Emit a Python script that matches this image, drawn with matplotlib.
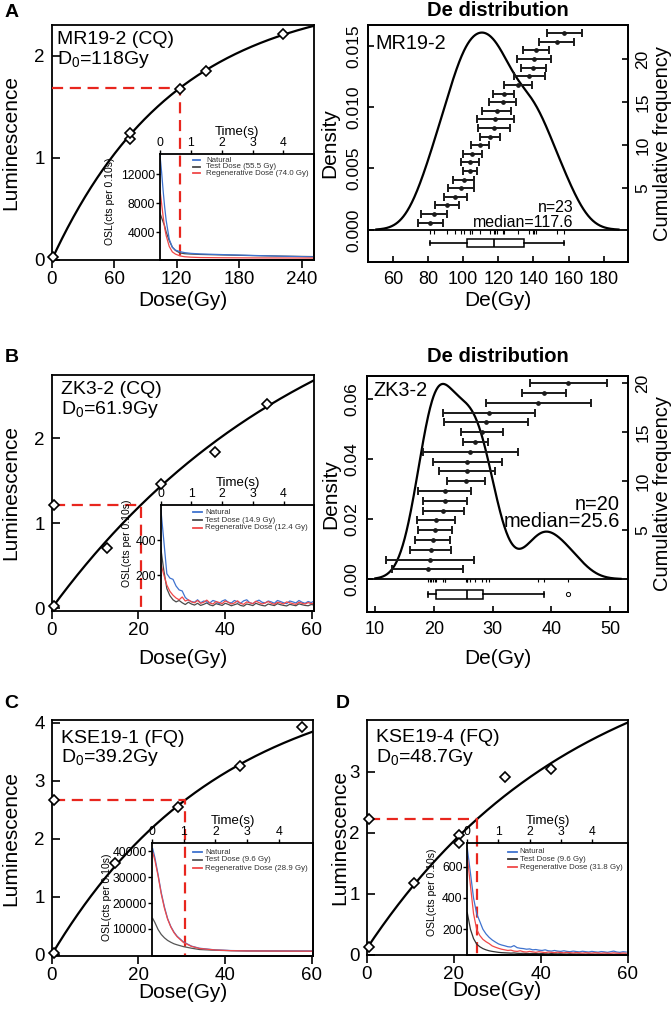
import numpy as np
import matplotlib
matplotlib.use('Agg')
import matplotlib.pyplot as plt

plt.rcParams['font.family'] = ['Liberation Sans', 'DejaVu Sans']
plt.rcParams['mathtext.default'] = 'regular'

W, H = 671, 1013
fig = plt.figure(figsize=(W / 100, H / 100), dpi=100)


def rect(x0, y0, x1, y1):
    return [x0 / W, 1 - y1 / H, (x1 - x0) / W, (y1 - y0) / H]


def ftxt(x, y, s, **kw):
    fig.text(x / W, 1 - y / H, s, **kw)

# ---------------- data ----------------
sample_names = ['MR19-2 (CQ)', 'ZK3-2 (CQ)', 'KSE19-1 (FQ)', 'KSE19-4 (FQ)']
d0_text = ['118Gy', '61.9Gy', '39.2Gy', '48.7Gy']
fit_a = [2.60, 4.30, 4.90, 5.23]
fit_D0 = [118.0, 61.9, 39.2, 48.7]
fit_c = [0.0, 0.0, 0.0, 0.10]

A_dose = [1.5, 75, 75, 123, 148, 222]
A_lum = [0.03, 1.18, 1.24, 1.67, 1.85, 2.21]
B_dose = [0.5, 12.8, 25.2, 37.6, 49.6]
B_lum = [0.03, 0.71, 1.46, 1.84, 2.40]
C_dose = [0.5, 14.6, 29.2, 43.5, 57.7]
C_lum = [0.03, 1.59, 2.54, 3.26, 3.92]
D_dose = [0.5, 10.9, 21.2, 21.2, 31.9, 42.3]
D_lum = [0.12, 1.18, 1.97, 1.83, 2.91, 3.04]

natural_dose = [None, 0.5, 0.5, 0.5]
natural_lum = [1.68, 1.22, 2.67, 2.22]
equiv_dose = [123.0, 20.6, 30.7, 25.3]

# OSL decay curves (insets)
A_t = [0, 0.05, 0.1, 0.15, 0.2, 0.3, 0.4, 0.5, 0.65, 0.8, 1.0, 1.3, 2.0, 3.0, 4.0, 5.0]
A_nat = [14600, 12400, 9800, 7500, 5600, 3000, 1900, 1500, 1280, 1150, 1050, 970, 880, 760, 650, 560]
A_test = [6600, 6000, 5400, 4850, 4000, 2800, 1900, 1450, 1100, 1000, 950, 900, 830, 740, 660, 600]
A_reg = [9800, 8000, 6200, 4600, 3500, 2000, 1250, 950, 690, 580, 520, 470, 440, 420, 410, 400]

B_t = np.arange(51) * 0.1
B_nat = [585, 400, 210, 185, 178, 140, 118, 112, 75, 60,
         52, 48, 62, 45, 55, 50, 44, 58, 52, 40,
         55, 62, 48, 44, 58, 50, 42, 56, 62, 45,
         40, 52, 60, 48, 44, 55, 50, 42, 58, 52,
         45, 40, 55, 50, 44, 58, 48, 42, 52, 46,
         56]
B_test = [360, 230, 125, 85, 62, 50, 58, 45, 35, 48,
          38, 32, 42, 30, 36, 44, 33, 28, 40, 35,
          30, 42, 36, 28, 34, 40, 30, 26, 38, 34,
          29, 42, 35, 30, 27, 38, 33, 29, 40, 34,
          30, 27, 36, 32, 28, 39, 34, 30, 28, 35,
          32]
B_reg = [270, 205, 145, 110, 88, 72, 62, 78, 55, 62,
         50, 45, 58, 42, 48, 60, 44, 38, 52, 47,
         40, 55, 48, 38, 44, 56, 42, 36, 50, 45,
         40, 54, 46, 38, 44, 52, 42, 36, 48, 44,
         38, 50, 45, 40, 36, 48, 42, 38, 46, 40,
         44]

C_t = [0.03, 0.1, 0.2, 0.3, 0.4, 0.5, 0.6, 0.7, 0.8, 1.0, 1.25, 1.5, 2.0, 2.5, 3.0, 4.0, 5.1]
C_nat = [41000, 37500, 31000, 24000, 18500, 14000, 11000, 8800, 7200, 5000, 3400, 2600, 1950, 1700, 1600, 1550, 1500]
C_test = [14100, 12500, 9800, 7900, 6600, 5600, 4900, 4300, 3900, 3200, 2600, 2100, 1800, 1650, 1550, 1500, 1450]
C_reg = [39500, 36500, 30500, 23500, 18000, 13800, 10800, 8600, 7000, 4800, 3300, 2500, 1900, 1650, 1550, 1500, 1450]

D_t = np.arange(52) * 0.1
D_nat = [717, 560, 400, 300, 250, 200, 170, 148, 131, 118,
         106, 99, 94, 88, 86, 95, 82, 78, 76, 72,
         74, 68, 70, 66, 64, 68, 62, 60, 64, 60,
         58, 62, 58, 56, 60, 57, 55, 59, 56, 54,
         58, 55, 53, 57, 55, 52, 56, 60, 54, 52,
         56, 54]
D_reg = [663, 480, 300, 200, 160, 135, 120, 108, 93, 85,
         78, 72, 68, 64, 66, 60, 58, 62, 56, 54,
         58, 55, 52, 56, 53, 50, 54, 52, 50, 53,
         51, 49, 52, 50, 48, 51, 49, 47, 50, 48,
         47, 50, 48, 46, 49, 47, 46, 49, 47, 45,
         48, 46]
D_test = [305, 200, 140, 105, 88, 76, 68, 62, 58, 55,
          52, 50, 49, 48, 47, 48, 46, 45, 46, 45,
          44, 45, 44, 43, 44, 43, 42, 44, 43, 42,
          43, 42, 41, 43, 42, 41, 42, 41, 40, 42,
          41, 40, 41, 40, 40, 41, 40, 39, 40, 39,
          40, 39]

legend_labels = [
    ['Natural', 'Test Dose (55.5 Gy)', 'Regenerative Dose (74.0 Gy)'],
    ['Natural', 'Test Dose (14.9 Gy)', 'Regenerative Dose (12.4 Gy)'],
    ['Natural', 'Test Dose (9.6 Gy)', 'Regenerative Dose (28.9 Gy)'],
    ['Natural', 'Test Dose (9.6 Gy)', 'Regenerative Dose (31.8 Gy)'],
]

# De distributions (sorted), with 1-sigma errors
MR_name = 'MR19-2'
MR_de = [81.4, 83.3, 90.9, 95.5, 98.9, 100.2, 103.8, 103.8, 105.3, 109.7, 115.2, 117.6,
         118.2, 119.0, 122.4, 123.1, 131.1, 137.7, 140.0, 140.2, 141.5, 153.3, 157.6]
MR_err = [7.3, 7.3, 6.7, 6.4, 7.4, 6.2, 3.9, 5.2, 5.2, 5.2, 5.9, 9.1,
          10.6, 8.5, 7.9, 6.1, 7.8, 9.0, 6.9, 9.7, 7.3, 9.9, 9.9]
ZK_name = 'ZK3-2'
ZK_de = [18.96, 19.4, 19.5, 19.8, 20.2, 20.4, 21.6, 21.9, 21.9, 25.5,
         25.7, 25.7, 26.2, 27.1, 28.2, 28.9, 29.4, 37.8, 38.8, 42.9]
ZK_err = [6.0, 7.5, 3.5, 3.0, 2.9, 3.3, 3.5, 3.8, 4.5, 3.3,
          4.8, 5.9, 8.1, 2.2, 3.6, 7.2, 7.9, 8.9, 3.7, 6.5]

BLUE = '#3f73cf'
RED = '#f04848'
DGRAY = '#4a4a4a'
DASH = '#e8261e'


def kde(vals):
    v = np.asarray(vals, float)
    n = len(v)
    sd = v.std(ddof=1)
    q75, q25 = np.percentile(v, [75, 25])
    bw = 0.9 * min(sd, (q75 - q25) / 1.34) * n ** -0.2
    g = np.linspace(v.min() - 3 * bw, v.max() + 3 * bw, 512)
    d = np.exp(-0.5 * ((g[:, None] - v[None, :]) / bw) ** 2).sum(1) / (n * bw * np.sqrt(2 * np.pi))
    return g, d


def growth_panel(k, px, xlim, ylim, xticks, yticks, dose, lum, ty, lum_x, dose_y):
    ax = fig.add_axes(rect(*px))
    D = np.linspace(0, xlim[1], 400)
    ax.plot(D, fit_a[k] * (1 - np.exp(-D / fit_D0[k])) + fit_c[k], color='black', lw=1.6, zorder=2)
    x0 = natural_dose[k] if natural_dose[k] is not None else 0
    ax.plot([x0, equiv_dose[k], equiv_dose[k]], [natural_lum[k], natural_lum[k], ylim[0]],
            color=DASH, lw=1.6, dashes=(5, 3), zorder=3)
    mk = dict(linestyle='none', marker='D', ms=5.6, mfc='white', mec='black', mew=1.2, zorder=4, clip_on=False)
    ax.plot(dose, lum, **mk)
    if natural_dose[k] is not None:
        ax.plot([natural_dose[k]], [natural_lum[k]], **mk)
    ax.set_xlim(xlim)
    ax.set_ylim(ylim)
    ax.set_xticks(xticks)
    ax.set_yticks(yticks)
    ax.tick_params(axis='x', direction='out', length=6, width=1.2, labelsize=13.5, pad=2)
    ax.tick_params(axis='y', direction='in', length=5.5, width=1.2, labelsize=13.5, pad=5)
    for s in ax.spines.values():
        s.set_linewidth(1.3)
    ftxt(px[0] + (9 if k else 5), ty, sample_names[k], fontsize=14, va='center')
    ftxt(px[0] + (9 if k else 5), ty + 20, 'D$_0$=' + d0_text[k], fontsize=14, va='center')
    ftxt(lum_x, (px[1] + px[3]) / 2, 'Luminescence', rotation=90, fontsize=15, ha='center', va='center')
    ftxt((px[0] + px[2]) / 2, dose_y, 'Dose(Gy)', fontsize=15, ha='center', va='center')
    return ax


def inset_panel(k, px, t, nat, test, reg, colors, xlim, ylim, yticks, ylab_xy, leg_x, leg_tx, leg_rows):
    ax = fig.add_axes(rect(*px))
    ax.patch.set_alpha(0)
    ax.plot(t, test, color=colors[1], lw=0.9)
    ax.plot(t, nat, color=colors[0], lw=0.9)
    ax.plot(t, reg, color=colors[2], lw=0.9)
    ax.set_xlim(xlim)
    ax.set_ylim(ylim)
    ax.xaxis.tick_top()
    ax.xaxis.set_label_position('top')
    ax.set_xticks([0, 1, 2, 3, 4])
    ax.set_yticks(yticks)
    ax.tick_params(axis='both', direction='out', length=3, width=1, labelsize=8.8, pad=0.5)
    ax.set_xlabel('Time(s)', fontsize=9.5, labelpad=1.5)
    for s in ax.spines.values():
        s.set_linewidth(1.3)
    ax.text(ylab_xy[0], ylab_xy[1], 'OSL(cts per 0.10s)', rotation=90, transform=ax.transAxes,
            ha='center', va='center', fontsize=7.5)
    for lab, c, ry in zip(legend_labels[k], colors, leg_rows):
        ax.plot(leg_x, [ry, ry], transform=ax.transAxes, color=c, lw=1.3)
        ax.text(leg_tx, ry, lab, transform=ax.transAxes, fontsize=5.7, va='center', color='#333333')
    return ax


def dist_panel(px, name, de, err, xlim, dlim, dticks, dfmt, clim, cticks, xticks,
               name_xy, n_xy, med_xy, stat_fs, box_y, box_h, rug, title_y, dens_x, cum_x, de_y):
    ax = fig.add_axes(rect(*px))
    g, d = kde(de)
    ax.plot(g, d, color='black', lw=1.6, zorder=2)
    ax.axhline(0, color='black', lw=1.3)
    ax.vlines(de, -rug, 0, color='black', lw=0.8)
    ax.boxplot(de, orientation='horizontal', positions=[box_y], widths=box_h, whis=1.5,
               patch_artist=True, manage_ticks=False,
               boxprops=dict(facecolor='white', edgecolor='black', lw=1.1),
               medianprops=dict(color='black', lw=1.2),
               whiskerprops=dict(color='black', lw=1.2),
               capprops=dict(color='black', lw=1.2),
               flierprops=dict(marker='o', ms=3, mfc='none', mec='black', mew=0.7))
    ax.set_xlim(xlim)
    ax.set_ylim(dlim)
    ax.set_xticks(xticks)
    ax.set_yticks(dticks)
    ax.set_yticklabels([dfmt % v for v in dticks], rotation=90, va='center')
    ax.tick_params(axis='both', direction='in', length=4.5, width=1.2, labelsize=12.5)
    ax.tick_params(axis='x', pad=7, labelsize=13)
    ax.tick_params(axis='y', pad=5)
    for s in ax.spines.values():
        s.set_linewidth(1.3)
    ax2 = ax.twinx()
    ax2.errorbar(de, np.arange(1, len(de) + 1), xerr=err, fmt='o', ms=2.4, color='#1a1a1a',
                 ecolor='#1a1a1a', elinewidth=1.4, capsize=2.6, capthick=1.4)
    ax2.set_ylim(clim)
    ax2.set_yticks(cticks)
    ax2.set_yticklabels([str(v) for v in cticks], rotation=90, va='center')
    ax2.tick_params(axis='y', direction='in', length=4.5, width=1.2, labelsize=12.5, pad=5)
    for s in ax2.spines.values():
        s.set_linewidth(1.3)
    ax.text(name_xy[0], name_xy[1], name, transform=ax.transAxes, fontsize=14.3, va='center')
    ax.text(n_xy[0], n_xy[1], 'n=%d' % len(de), transform=ax.transAxes, fontsize=stat_fs,
            ha='right', va='center')
    ax.text(med_xy[0], med_xy[1], 'median=%.1f' % np.median(de), transform=ax.transAxes,
            fontsize=stat_fs, ha='right', va='center')
    ftxt((px[0] + px[2]) / 2, title_y, 'De distribution', fontsize=14.5, fontweight='bold',
         ha='center', va='center')
    ftxt(dens_x, (px[1] + px[3]) / 2, 'Density', rotation=90, fontsize=15, ha='center', va='center')
    ftxt(cum_x, (px[1] + px[3]) / 2, 'Cumulative frequency', rotation=90, fontsize=14.5,
         ha='center', va='center')
    ftxt((px[0] + px[2]) / 2, de_y, 'De(Gy)', fontsize=15, ha='center', va='center')
    return ax


# ---------------- panel A ----------------
growth_panel(0, (51.7, 25, 314.3, 260), (0, 252), (0, 2.30), [0, 60, 120, 180, 240], [0, 1, 2],
             A_dose, A_lum, 40, 11, 300)
inset_panel(0, (160, 154, 314.3, 260), A_t, A_nat, A_test, A_reg, [BLUE, DGRAY, RED],
            (0, 5.0), (130, 14800), [4000, 8000, 12000], (-0.324, 0.55),
            [0.214, 0.259], 0.30, [0.943, 0.88, 0.817])
dist_panel((368.3, 25, 628.3, 261.7), MR_name, MR_de, MR_err, (46, 194), (-0.0026, 0.0167),
           [0.000, 0.005, 0.010, 0.015], '%.3f', (-3.53, 23.96), [5, 10, 15, 20],
           [60, 80, 100, 120, 140, 160, 180],
           (0.026, 0.923), (0.788, 0.227), (0.788, 0.166), 11.5, -0.00108, 0.00072, 0.00033,
           10, 330, 663, 300)

# ---------------- panel B ----------------
growth_panel(1, (51.7, 375, 314.3, 610.7), (0, 60.6), (-0.028, 2.745), [0, 20, 40, 60], [0, 1, 2],
             B_dose, B_lum, 390, 11, 658)
inset_panel(1, (160.7, 505, 314.3, 610.7), B_t, B_nat, B_test, B_reg, [BLUE, DGRAY, RED],
            (0, 5.0), (0, 600), [200, 400], (-0.22, 0.64),
            [0.213, 0.268], 0.289, [0.931, 0.858, 0.785])
dist_panel((366.7, 376, 628.3, 611.7), ZK_name, ZK_de, ZK_err, (8.6, 53.1), (-0.0109, 0.0678),
           [0.00, 0.02, 0.04, 0.06], '%.2f', (-3.31, 20.74), [5, 10, 15, 20],
           [10, 20, 30, 40, 50],
           (0.025, 0.94), (0.968, 0.453), (0.968, 0.382), 14.4, -0.0051, 0.0030, 0.0011,
           357, 331, 663, 658)

# ---------------- panel C ----------------
growth_panel(2, (51.7, 720, 313.3, 956), (0, 60.4), (-0.022, 4.047), [0, 20, 40, 60], [0, 1, 2, 3, 4],
             C_dose, C_lum, 738, 11, 992)
inset_panel(2, (151.7, 843.3, 313.3, 956), C_t, C_nat, C_test, C_reg, [BLUE, '#555555', RED],
            (0, 5.08), (-400, 43000), [10000, 20000, 30000, 40000], (-0.275, 0.52),
            [0.258, 0.31], 0.33, [0.92, 0.852, 0.778])

# ---------------- panel D ----------------
growth_panel(3, (366.7, 720, 627.7, 955), (0, 60), (-0.003, 3.846), [0, 20, 40, 60], [0, 1, 2, 3],
             D_dose, D_lum, 737, 340, 990)
inset_panel(3, (467.3, 842.7, 627.7, 955), D_t, D_nat, D_test, D_reg, [BLUE, '#333333', RED],
            (0, 5.15), (35, 753), [200, 400, 600], (-0.222, 0.56),
            [0.256, 0.308], 0.327, [0.92, 0.852, 0.781])

# panel letters
for lab, (x, y) in zip(['A', 'B', 'C', 'D'], [(11.5, 12.5), (11.7, 357), (11, 703), (342.5, 703)]):
    ftxt(x, y, lab, fontsize=14, fontweight='bold', ha='center', va='center')

fig.savefig('out.png', dpi=100)
